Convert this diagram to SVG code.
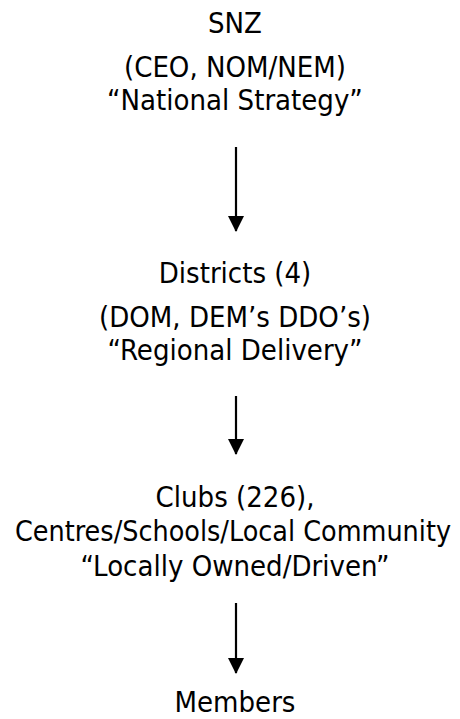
<svg xmlns="http://www.w3.org/2000/svg" width="460" height="719" viewBox="0 0 460 719">
  <style>
    .lbl { font-family: "DejaVu Sans Condensed", "DejaVu Sans", sans-serif; font-stretch: condensed; font-size: 29px; fill: #000; text-anchor: middle; }
    .conn { stroke: #000; stroke-width: 2.2; fill: none; marker-end: url(#head); }
  </style>
  <defs>
    <!-- solid triangular arrowhead, tip at the line end -->
    <marker id="head" markerUnits="userSpaceOnUse" markerWidth="16" markerHeight="17" refX="15" refY="8" orient="auto" viewBox="0 0 16 16">
      <path d="M0,0 L16,8 L0,16 Z" fill="#000"/>
    </marker>
  </defs>
  <rect width="460" height="719" fill="#fff"/>

  <g id="connectors">
    <line class="conn" x1="236" y1="147" x2="236" y2="231"/>
    <line class="conn" x1="236" y1="396" x2="236" y2="454"/>
    <line class="conn" x1="236" y1="603" x2="236" y2="673"/>
  </g>

  <g id="snz">
    <text class="lbl" x="235" y="33">SNZ</text>
    <text class="lbl" x="235" y="77">(CEO, NOM/NEM)</text>
    <text class="lbl" x="235" y="110">“National Strategy”</text>
  </g>

  <g id="districts">
    <text class="lbl" x="235" y="283">Districts (4)</text>
    <text class="lbl" x="235" y="327">(DOM, DEM’s DDO’s)</text>
    <text class="lbl" x="235" y="360">“Regional Delivery”</text>
  </g>

  <g id="clubs">
    <text class="lbl" x="235" y="507">Clubs (226),</text>
    <text class="lbl" x="233" y="541" textLength="436" lengthAdjust="spacingAndGlyphs">Centres/Schools/Local Community</text>
    <text class="lbl" x="235" y="576">“Locally Owned/Driven”</text>
  </g>

  <g id="members">
    <text class="lbl" x="235" y="712">Members</text>
  </g>
</svg>
